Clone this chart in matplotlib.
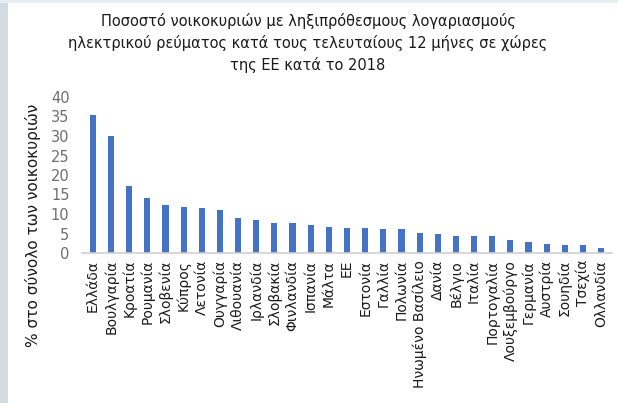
import matplotlib.pyplot as plt
from matplotlib.patches import Rectangle

countries = ["Ελλάδα", "Βουλγαρία", "Κροατία", "Ρουμανία", "Σλοβενία", "Κύπρος",
             "Λετονία", "Ουγγαρία", "Λιθουανία", "Ιρλανδία", "Σλοβακία", "Φινλανδία",
             "Ισπανία", "Μάλτα", "ΕΕ", "Εστονία", "Γαλλία", "Πολωνία",
             "Ηνωμένο Βασίλειο", "Δανία", "Βέλγιο", "Ιταλία", "Πορτογαλία",
             "Λουξεμβούργο", "Γερμανία", "Αυστρία", "Σουηδία", "Τσεχία", "Ολλανδία"]
arrears = [35.5, 29.9, 17.2, 14.2, 12.4, 11.9, 11.5, 11.0, 9.0, 8.5, 7.8, 7.6,
           7.1, 6.7, 6.4, 6.4, 6.2, 6.2, 5.2, 5.0, 4.4, 4.3, 4.3, 3.4, 2.9, 2.3,
           2.0, 2.0, 1.4]
yticks = [0, 5, 10, 15, 20, 25, 30, 35, 40]

title = ("Ποσοστό νοικοκυριών με ληξιπρόθεσμους λογαριασμούς\n"
         "ηλεκτρικού ρεύματος κατά τους τελευταίους 12 μήνες σε χώρες\n"
         "της ΕΕ κατά το 2018")

plt.rcParams["font.family"] = ["DejaVu Sans"]

fig = plt.figure(figsize=(6.18, 4.03), dpi=100)
W, H = 618, 403

# light frame strips on the left and top edge
fig.patches.append(Rectangle((0, 0), 8 / W, 1, transform=fig.transFigure,
                             facecolor="#d3dbe3", edgecolor="none", zorder=0))
fig.patches.append(Rectangle((0, 1 - 3 / H), 1, 3 / H, transform=fig.transFigure,
                             facecolor="#e8edf2", edgecolor="none", zorder=0))

ax = fig.add_axes([82 / W, 1 - 253 / H, (612 - 82) / W, (253 - 97) / H])
x = list(range(len(countries)))
ax.bar(x, arrears, width=0.34, color="#4472c4")
ax.set_xlim(-0.6, len(countries) - 0.4)
ax.set_ylim(0, 40)
ax.set_yticks(yticks)
ax.set_yticklabels([str(t) for t in yticks], color="#6e6e6e", fontsize=10.5)
ax.set_xticks(x)
ax.set_xticklabels(countries, rotation=90, fontsize=10, color="#1a1a1a")
ax.tick_params(axis="both", length=0)
ax.tick_params(axis="y", pad=9)
ax.tick_params(axis="x", pad=5)
for side in ["top", "right", "left"]:
    ax.spines[side].set_visible(False)
ax.spines["bottom"].set_color("#d0d0d0")
ax.spines["bottom"].set_linewidth(1.2)

fig.text(308 / W, 1 - 13 / H, title, ha="center", va="top", fontsize=10.5,
         linespacing=1.45, color="#1a1a1a")
fig.text(33 / W, 1 - 225 / H, "% στο σύνολο των νοικοκυριών", rotation=90,
         ha="center", va="center", fontsize=11, color="#1a1a1a")

fig.savefig("out.png", dpi=100)
